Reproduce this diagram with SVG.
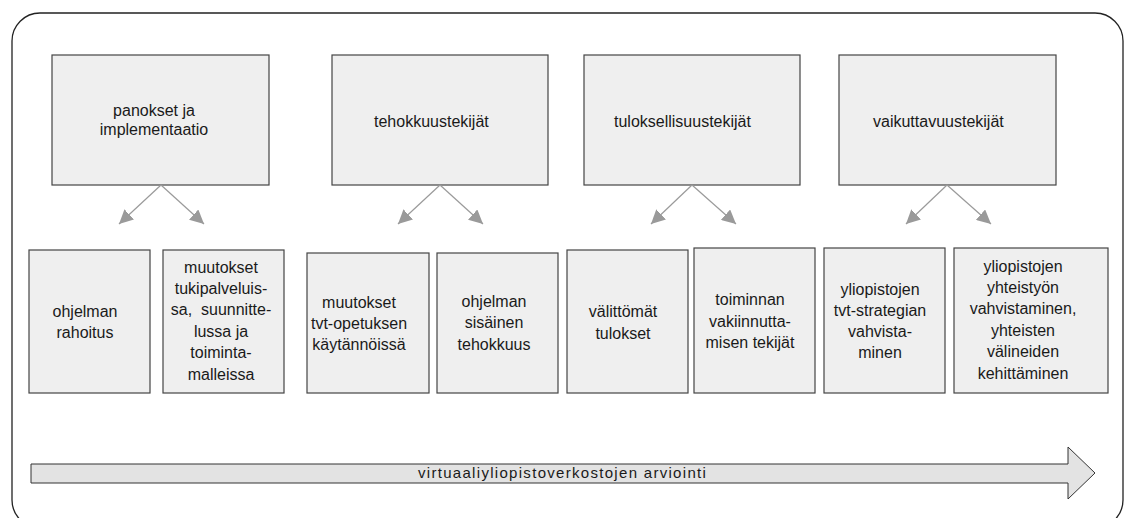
<svg xmlns="http://www.w3.org/2000/svg" width="1125" height="518" viewBox="0 0 1125 518">
<defs>
<style>
.box{fill:#efefef;stroke:#444;stroke-width:1.2}
.t{font-family:"Liberation Sans",Arial,sans-serif;font-size:16px;fill:#1a1a1a}
.c{text-anchor:middle}
.con{stroke:#9a9a9a;stroke-width:1.2;fill:none;marker-end:url(#ah)}
</style>
<marker id="ah" markerUnits="userSpaceOnUse" markerWidth="16" markerHeight="14" viewBox="0 0 16 14" refX="14" refY="7" orient="auto">
<path d="M0,0 L14,7 L0,14 Z" fill="#9a9a9a"/>
</marker>
</defs>
<rect width="1125" height="518" fill="#fff"/>
<rect id="frame" x="12" y="13" width="1111" height="515" rx="28" ry="28" fill="none" stroke="#222" stroke-width="1.3"/>

<g id="n1"><rect class="box" x="52" y="55" width="217" height="130"/>
<text class="t c" x="154" y="116">panokset ja</text><text class="t c" x="154" y="135">implementaatio</text></g>
<g id="n2"><rect class="box" x="332" y="55" width="216" height="130"/>
<text class="t" x="374" y="127">tehokkuustekijät</text></g>
<g id="n3"><rect class="box" x="584" y="55" width="216" height="130"/>
<text class="t" x="614" y="127">tuloksellisuustekijät</text></g>
<g id="n4"><rect class="box" x="839" y="55" width="217" height="130"/>
<text class="t" x="873" y="127">vaikuttavuustekijät</text></g>

<g id="connectors">
<line class="con" x1="161" y1="185" x2="119" y2="224"/>
<line class="con" x1="161" y1="185" x2="204" y2="224"/>
<line class="con" x1="440" y1="185" x2="398" y2="224"/>
<line class="con" x1="440" y1="185" x2="483" y2="224"/>
<line class="con" x1="692" y1="185" x2="651" y2="224"/>
<line class="con" x1="692" y1="185" x2="736" y2="224"/>
<line class="con" x1="947" y1="185" x2="906" y2="224"/>
<line class="con" x1="947" y1="185" x2="991" y2="224"/>
</g>

<g id="a"><rect class="box" x="29" y="250" width="121" height="143"/>
<text class="t c" x="85" y="317">ohjelman</text><text class="t c" x="85" y="338">rahoitus</text></g>
<g id="b"><rect class="box" x="163" y="250" width="121" height="143"/>
<text class="t c" x="221" y="273">muutokset</text><text class="t c" x="221" y="294">tukipalveluis-</text><text class="t c" x="221" y="315">sa,&#160; suunnitte-</text><text class="t c" x="221" y="337">lussa ja</text><text class="t c" x="221" y="358">toiminta-</text><text class="t c" x="221" y="380">malleissa</text></g>
<g id="c"><rect class="box" x="307" y="253" width="122" height="140"/>
<text class="t c" x="359" y="308">muutokset</text><text class="t c" x="359" y="329">tvt-opetuksen</text><text class="t c" x="359" y="350">käytännöissä</text></g>
<g id="d"><rect class="box" x="437" y="253" width="121" height="140"/>
<text class="t c" x="494" y="307">ohjelman</text><text class="t c" x="494" y="328">sisäinen</text><text class="t c" x="494" y="350">tehokkuus</text></g>
<g id="e"><rect class="box" x="567" y="250" width="121" height="143"/>
<text class="t c" x="623" y="317">välittömät</text><text class="t c" x="623" y="339">tulokset</text></g>
<g id="f"><rect class="box" x="694" y="248" width="121" height="145"/>
<text class="t c" x="750" y="305">toiminnan</text><text class="t c" x="750" y="327">vakiinnutta-</text><text class="t c" x="750" y="348">misen tekijät</text></g>
<g id="g"><rect class="box" x="824" y="248" width="121" height="145"/>
<text class="t c" x="880" y="295">yliopistojen</text><text class="t c" x="880" y="316">tvt-strategian</text><text class="t c" x="880" y="337">vahvista-</text><text class="t c" x="880" y="358">minen</text></g>
<g id="h"><rect class="box" x="954" y="248" width="154" height="145"/>
<text class="t c" x="1023" y="272">yliopistojen</text><text class="t c" x="1023" y="293">yhteistyön</text><text class="t c" x="1023" y="314">vahvistaminen,</text><text class="t c" x="1023" y="336">yhteisten</text><text class="t c" x="1023" y="357">välineiden</text><text class="t c" x="1023" y="379">kehittäminen</text></g>

<g id="timeline">
<path d="M31,464 L1068,464 L1068,447 L1095,473 L1068,499 L1068,483 L31,483 Z" fill="#e3e3e3" stroke="#333" stroke-width="1"/>
<text x="418" y="478" font-family="Liberation Sans,Arial,sans-serif" font-size="15" letter-spacing="1.3" fill="#1a1a1a">virtuaaliyliopistoverkostojen arviointi</text>
</g>
</svg>
